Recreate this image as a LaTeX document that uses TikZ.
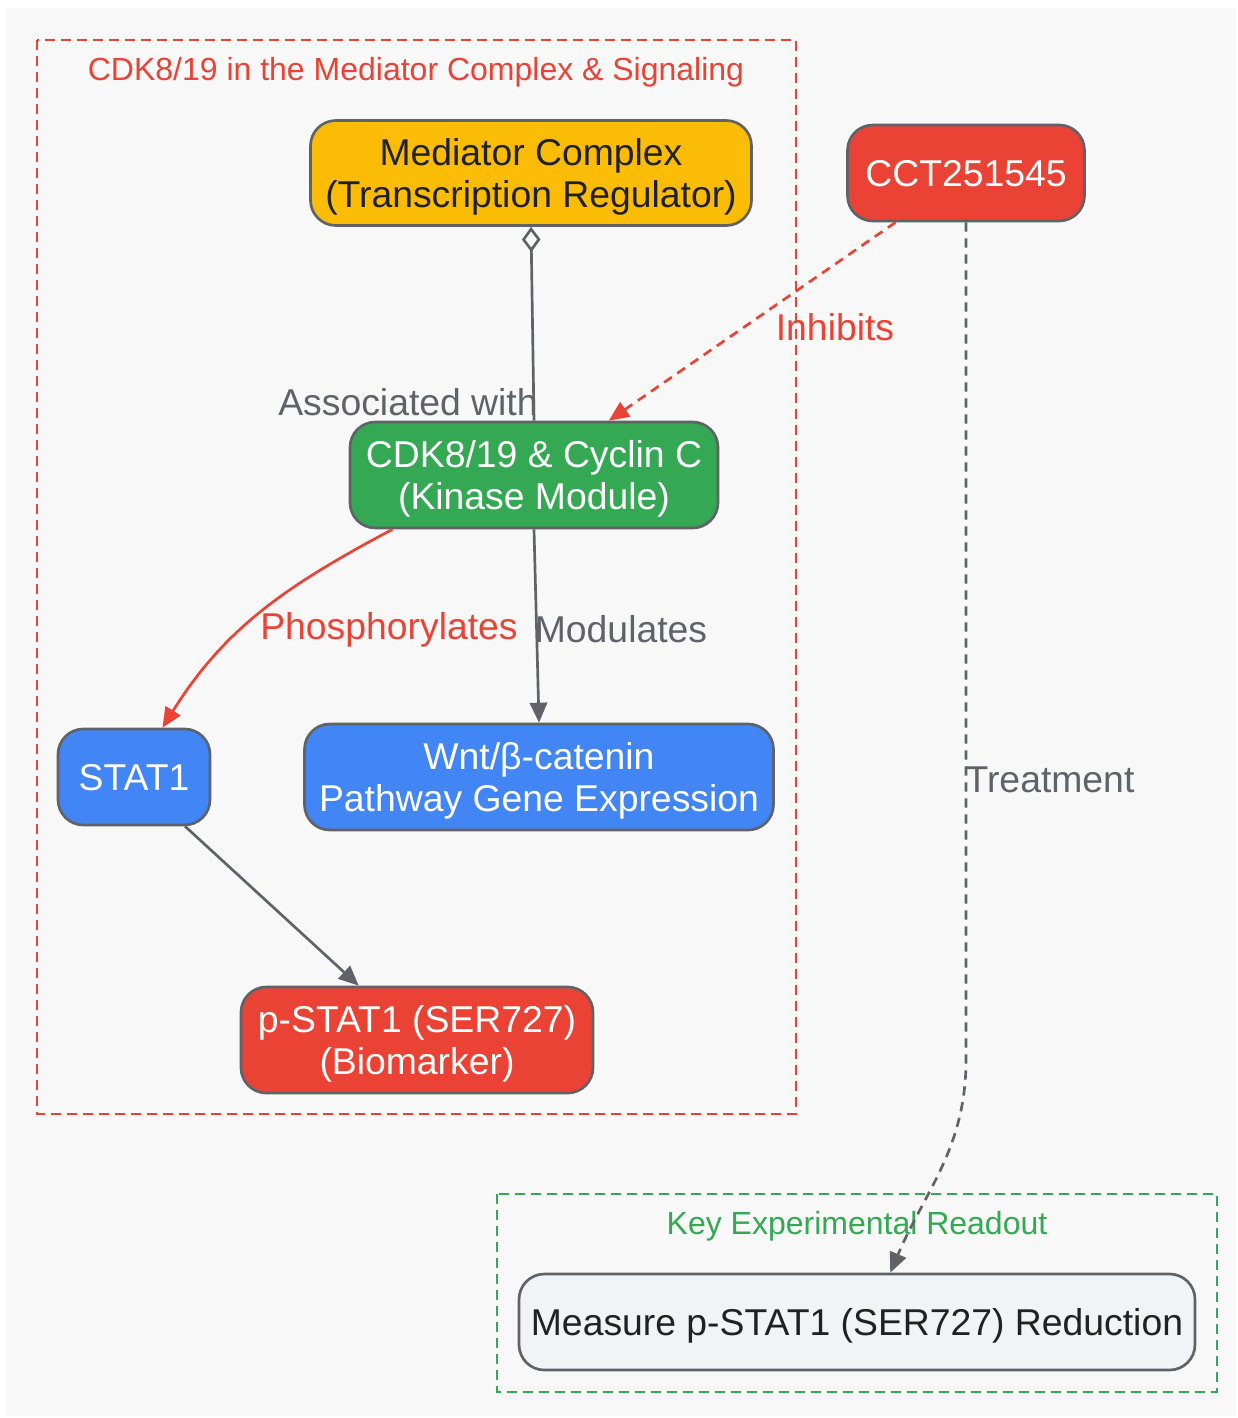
\documentclass[tikz,border=0pt]{standalone}
\usepackage{fontspec}
\setmainfont{Liberation Sans}
\usetikzlibrary{arrows.meta}
\definecolor{gborder}{HTML}{5F6368}
\definecolor{gred}{HTML}{EA4335}
\definecolor{ggreen}{HTML}{34A853}
\definecolor{gblue}{HTML}{4285F4}
\definecolor{gyellow}{HTML}{FBBC05}
\definecolor{glight}{HTML}{F1F3F4}
\definecolor{gbg}{HTML}{F8F8F8}
\definecolor{gtext}{HTML}{202124}
\tikzset{
  box/.style={draw=gborder, line width=2pt, rounded corners=19pt, align=center,
    font=\fontsize{28}{31.5}\selectfont, inner sep=0pt, text depth=0pt},
  cluster/.style={dash pattern=on 7.5pt off 4.5pt, line width=1.5pt},
  ctitle/.style={font=\fontsize{24}{28}\selectfont},
  elabel/.style={font=\fontsize{28}{31.5}\selectfont, inner sep=0pt},
  link/.style={line width=2pt, -{Triangle[length=15pt, width=13pt]}},
}
\begin{document}
\begin{tikzpicture}[x=0.75pt, y=-0.75pt]
  \useasboundingbox (0,0) rectangle (1238,1418);
  \fill[gbg] (6,8) rectangle (1236,1416);

  % groups
  \draw[cluster, gred] (37,40) rectangle (796,1114);
  \node[ctitle, text=gred] (title1) at (416,72) {CDK8/19 in the Mediator Complex \& Signaling};
  \draw[cluster, ggreen] (497,1194) rectangle (1217,1392);
  \node[ctitle, text=ggreen] (title2) at (857,1226) {Key Experimental Readout};

  % nodes
  \node[box, fill=gyellow, text=gtext, minimum width=330.75pt, minimum height=78.75pt]
    (med) at (531,173) {Mediator Complex\\(Transcription Regulator)};
  \node[box, fill=gred, text=white, minimum width=177.75pt, minimum height=72pt]
    (cct) at (966,173) {CCT251545};
  \node[box, fill=ggreen, text=white, minimum width=276pt, minimum height=79.5pt]
    (cdk) at (534,475) {CDK8/19 \& Cyclin C\\(Kinase Module)};
  \node[box, fill=gblue, text=white, minimum width=114pt, minimum height=72pt]
    (stat) at (134,777) {STAT1};
  \node[box, fill=gblue, text=white, minimum width=351.75pt, minimum height=79.5pt]
    (wnt) at (539,777) {Wnt/β-catenin\\Pathway Gene Expression};
  \node[box, fill=gred, text=white, minimum width=264pt, minimum height=79.5pt]
    (pstat) at (417,1040) {p-STAT1 (SER727)\\(Biomarker)};
  \node[box, fill=glight, text=gtext, minimum width=507pt, minimum height=72pt]
    (meas) at (857,1322) {Measure p-STAT1 (SER727) Reduction};

  % connectors
  \draw[gborder, line width=2pt, -{Diamond[open, length=19pt, width=14pt]}] (cdk.north) -- (med.south);
  \draw[link, gred, dash pattern=on 7pt off 5pt] (cct.215) -- (cdk.36);
  \draw[link, gred] (cdk.201) to[out=208, in=58] (stat.60);
  \draw[link, gborder] (cdk.south) -- (wnt.north);
  \draw[link, gborder] (stat.-44) -- (pstat.137);
  \coordinate (bend) at (966,1060);
  \draw[link, gborder, dash pattern=on 7pt off 5pt] (cct.south) -- (bend) to[out=-90, in=67] (meas.56);

  % edge labels
  \node[elabel, text=gborder] (lassoc) at (408,402) {Associated with};
  \node[elabel, text=gred] (linhib) at (835,327) {Inhibits};
  \node[elabel, text=gred] (lphos) at (389,630) {Phosphorylates};
  \node[elabel, text=gborder] (lmod) at (621,629) {Modulates};
  \node[elabel, text=gborder] (ltreat) at (1050,780) {Treatment};
\end{tikzpicture}
\end{document}
